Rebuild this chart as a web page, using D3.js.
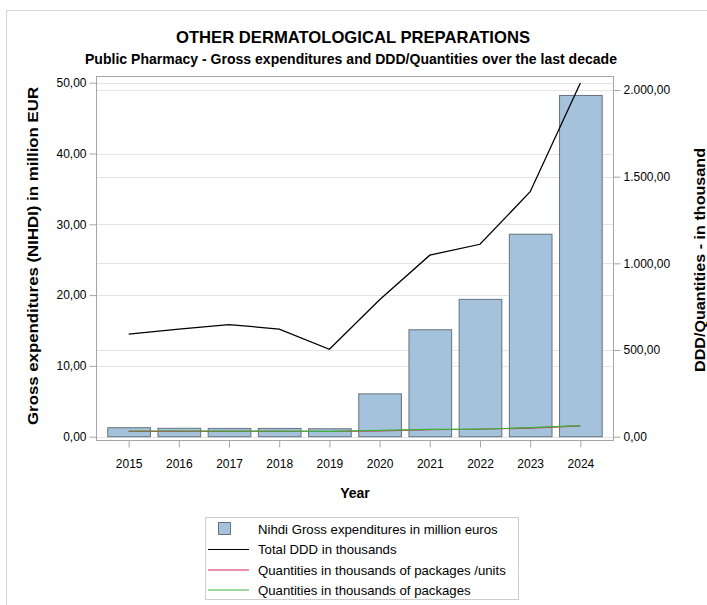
<!DOCTYPE html>
<html>
<head>
<meta charset="utf-8">
<script src="https://cdn.jsdelivr.net/npm/d3@7"></script>
<style>
  html, body { margin: 0; padding: 0; background: #fff; }
  svg { display: block; }
  text { font-family: "Liberation Sans", Arial, sans-serif; fill: #000; }
</style>
</head>
<body>
<script>
// ---- data ----
const years = ["2015","2016","2017","2018","2019","2020","2021","2022","2023","2024"];
const grossExpenditures = [1.27, 1.19, 1.17, 1.17, 1.12, 6.05, 15.1, 19.4, 28.6, 48.2];
const totalDDD = [592, 620, 647, 621, 504, 790, 1047, 1110, 1413, 2040];
const quantitiesUnits = [31, 31, 31, 31, 30, 34, 40, 43, 50, 62];
const quantitiesPackages = [33, 33, 32, 32, 31, 36, 42, 44, 52, 64];
const leftTicks = [0, 10, 20, 30, 40, 50];
const rightTicks = [0, 500, 1000, 1500, 2000];
const title = "OTHER DERMATOLOGICAL PREPARATIONS";
const subtitle = "Public Pharmacy - Gross expenditures and DDD/Quantities over the last decade";
const legendLabels = [
  "Nihdi Gross expenditures in million euros",
  "Total DDD in thousands",
  "Quantities in thousands of packages /units",
  "Quantities in thousands of packages"
];

// ---- layout ----
const W = 707, H = 605;
const frame = {x0: 96, x1: 613, y0: 76, y1: 440};
const barFill = "#a4c2db", barStroke = "#66727e";
const gridColor = "#e4e4e4", axisColor = "#a6a6a6";
const colDDD = "#000000", colUnits = "#d8275c", colPack = "#3cb43c";

const fmtL = v => d3.format(",.2f")(v).replace(/,/g, "#").replace(/\./g, ",").replace(/#/g, ".");

const svg = d3.select("body").append("svg").attr("width", W).attr("height", H);

// outer border
svg.append("rect").attr("x", 6.5).attr("y", 10.5).attr("width", 720).attr("height", 620)
  .attr("fill", "none").attr("stroke", "#d4d4d4");

// scales
const x = d3.scaleBand().domain(years).range([frame.x0, frame.x1]).paddingInner(0.15).paddingOuter(0.225);
const yL = d3.scaleLinear().domain([0, 50]).range([436.7, 82.7]);
const yR = d3.scaleLinear().domain([0, 2042]).range([436.7, 82.7]);

// titles
svg.append("text").attr("x", 353).attr("y", 43).attr("text-anchor", "middle")
  .attr("font-size", 17).attr("font-weight", "bold")
  .attr("textLength", 354).attr("lengthAdjust", "spacingAndGlyphs").text(title);
svg.append("text").attr("x", 351).attr("y", 64).attr("text-anchor", "middle")
  .attr("font-size", 14.5).attr("font-weight", "bold")
  .attr("textLength", 532).attr("lengthAdjust", "spacingAndGlyphs").text(subtitle);

// gridlines
const grid = svg.append("g");
grid.selectAll("line.gl").data(leftTicks).join("line").attr("class", "gl")
  .attr("x1", frame.x0).attr("x2", frame.x1)
  .attr("y1", d => Math.round(yL(d)) + 0.5).attr("y2", d => Math.round(yL(d)) + 0.5)
  .attr("stroke", gridColor).attr("stroke-width", 1.2);
grid.selectAll("line.gr").data(rightTicks).join("line").attr("class", "gr")
  .attr("x1", frame.x0).attr("x2", frame.x1)
  .attr("y1", d => Math.round(yR(d)) + 0.5).attr("y2", d => Math.round(yR(d)) + 0.5)
  .attr("stroke", gridColor).attr("stroke-width", 1.2);

// bars
svg.append("g").selectAll("rect").data(years).join("rect")
  .attr("x", d => x(d) + 0.5)
  .attr("y", (d, i) => yL(grossExpenditures[i]))
  .attr("width", x.bandwidth())
  .attr("height", (d, i) => yL(0) - yL(grossExpenditures[i]))
  .attr("fill", barFill).attr("stroke", barStroke).attr("stroke-width", 1);

// lines
const cx = d => x(d) + x.bandwidth() / 2;
const lineGen = arr => d3.line().x((d) => cx(d)).y((d, i) => yR(arr[i]))(years);
svg.append("path").attr("d", lineGen(quantitiesUnits)).attr("fill", "none")
  .attr("stroke", colUnits).attr("stroke-width", 1.2);
svg.append("path").attr("d", lineGen(quantitiesPackages)).attr("fill", "none")
  .attr("stroke", colPack).attr("stroke-width", 1.2);
svg.append("path").attr("d", lineGen(totalDDD)).attr("fill", "none")
  .attr("stroke", colDDD).attr("stroke-width", 1.3);

// frame
svg.append("rect").attr("x", frame.x0 + 0.5).attr("y", frame.y0 + 0.5)
  .attr("width", frame.x1 - frame.x0).attr("height", frame.y1 - frame.y0)
  .attr("fill", "none").attr("stroke", axisColor).attr("stroke-width", 1);

// left axis
const axL = d3.axisLeft(yL).tickValues(leftTicks).tickFormat(fmtL).tickSize(7).tickPadding(3);
const gL = svg.append("g").attr("transform", `translate(${frame.x0 + 0.5},0)`).call(axL);
gL.select(".domain").remove();
gL.selectAll("line").attr("stroke", axisColor);
gL.selectAll("text").attr("font-size", 12).attr("font-family", "Liberation Sans, Arial, sans-serif").attr("fill", "#222");

// right axis
const axR = d3.axisRight(yR).tickValues(rightTicks).tickFormat(fmtL).tickSize(7).tickPadding(3);
const gR = svg.append("g").attr("transform", `translate(${frame.x1 + 0.5},0)`).call(axR);
gR.select(".domain").remove();
gR.selectAll("line").attr("stroke", axisColor);
gR.selectAll("text").attr("font-size", 12).attr("font-family", "Liberation Sans, Arial, sans-serif").attr("fill", "#222");

// bottom axis
const axB = d3.axisBottom(x).tickSize(7).tickPadding(12);
const gB = svg.append("g").attr("transform", `translate(0.5,${frame.y1 + 0.5})`).call(axB);
gB.select(".domain").remove();
gB.selectAll("line").attr("stroke", axisColor);
gB.selectAll("text").attr("font-size", 12).attr("font-family", "Liberation Sans, Arial, sans-serif").attr("fill", "#222");

// axis titles
svg.append("text").attr("x", 355).attr("y", 498).attr("text-anchor", "middle")
  .attr("font-size", 14).attr("font-weight", "bold").text("Year");
svg.append("text").attr("transform", "translate(38,256) rotate(-90)").attr("text-anchor", "middle")
  .attr("font-size", 15.5).attr("font-weight", "bold")
  .attr("textLength", 338).attr("lengthAdjust", "spacingAndGlyphs")
  .text("Gross expenditures (NIHDI) in million EUR");
svg.append("text").attr("transform", "translate(705,260) rotate(-90)").attr("text-anchor", "middle")
  .attr("font-size", 15.5).attr("font-weight", "bold")
  .attr("textLength", 224).attr("lengthAdjust", "spacingAndGlyphs")
  .text("DDD/Quantities - in thousand");

// legend
const lg = svg.append("g");
lg.append("rect").attr("x", 205.5).attr("y", 517.5).attr("width", 313).attr("height", 82)
  .attr("fill", "#fff").attr("stroke", "#cccccc");
const rowY = [529, 549.5, 570, 590];
lg.append("rect").attr("x", 218.5).attr("y", rowY[0] - 6.5).attr("width", 12).attr("height", 12)
  .attr("fill", barFill).attr("stroke", barStroke);
[colDDD, colUnits, colPack].forEach((c, i) => {
  lg.append("line").attr("x1", 208).attr("x2", 249)
    .attr("y1", rowY[i + 1]).attr("y2", rowY[i + 1]).attr("stroke", c).attr("stroke-width", 1.2);
});
lg.selectAll("text").data(legendLabels).join("text")
  .attr("x", 258).attr("y", (d, i) => rowY[i] + 4.5)
  .attr("font-size", 13.2).text(d => d);
</script>
</body>
</html>
